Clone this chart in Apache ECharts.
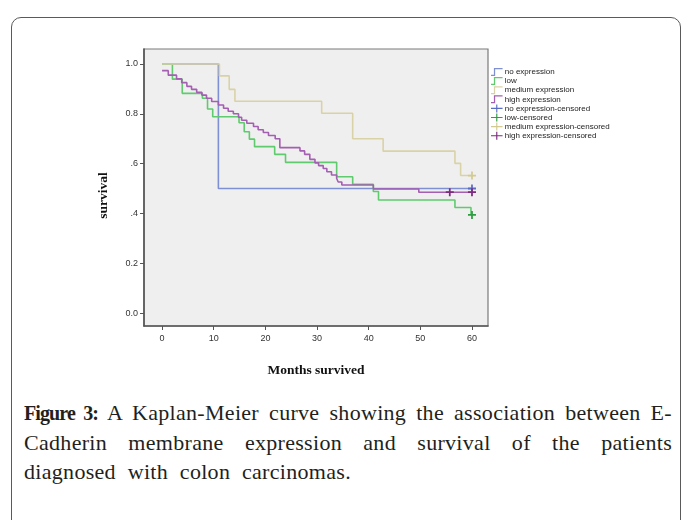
<!DOCTYPE html>
<html>
<head>
<meta charset="utf-8">
<script src="https://cdn.jsdelivr.net/npm/echarts@6/dist/echarts.min.js"></script>
<style>
  html, body { margin: 0; padding: 0; background: #fff; }
  #page { position: relative; width: 683px; height: 520px; overflow: hidden; }
  #card { position: absolute; left: 11px; top: 17px; width: 668px; height: 560px;
          border: 1.5px solid #5a5a5a; border-radius: 10px; }
  #chart { position: absolute; left: 0; top: 0; width: 683px; height: 390px; }
  #caption { position: absolute; left: 24px; top: 398px; width: 648px;
             font-family: "Liberation Serif", serif; font-size: 22px; line-height: 29px;
             letter-spacing: 0.3px; color: #231f20; }
  #caption div { white-space: nowrap; }
  #caption .j { text-align: justify; text-align-last: justify; }
  #caption .last { word-spacing: 6px; }
  #caption b { font-weight: bold; font-size: 20px; letter-spacing: -0.9px; }
</style>
</head>
<body>
<div id="page">
  <div id="card"></div>
  <div id="chart"></div>
  <div id="caption">
    <div class="j"><b>Figure 3:</b> A Kaplan-Meier curve showing the association between E-</div>
    <div class="j">Cadherin membrane expression and survival of the patients</div>
    <div class="last">diagnosed with colon carcinomas.</div>
  </div>
</div>
<script>
    // 生存曲线数据 (months, survival)
    const noExprMonths = [0, 10.9, 60];
    const noExprSurv = [1.0, 0.5, 0.5];

    const lowMonths = [0, 2, 3.9, 7.8, 8.8, 9.8, 14.9, 15.9, 16.9, 17.9, 21.8, 23.9, 33.8, 36.9, 40.9, 41.9, 56.7, 59.8];
    const lowSurv = [1.0, 0.939, 0.882, 0.862, 0.819, 0.788, 0.764, 0.728, 0.698, 0.668, 0.637, 0.605, 0.547, 0.517, 0.488, 0.454, 0.424, 0.394];

    const medMonths = [0, 11.1, 13.0, 14.1, 30.9, 36.9, 42.8, 56.7, 57.8, 60];
    const medSurv = [1.0, 0.952, 0.898, 0.85, 0.802, 0.70, 0.65, 0.601, 0.552, 0.552];

    const highMonths = [0, 1.2, 2.8, 3.8, 4.8, 5.7, 6.7, 7.7, 8.6, 9.6, 10.9, 11.9, 12.8, 13.8, 14.8, 15.4, 16.4, 17.7, 18.6, 19.6, 20.6, 21.9, 22.8, 26.7, 27.6, 28.6, 29.6, 30.3, 31.2, 31.9, 32.8, 33.8, 34.1, 34.8, 40.9, 49.7, 60];
    const highSurv = [0.973, 0.955, 0.94, 0.925, 0.91, 0.898, 0.886, 0.875, 0.862, 0.849, 0.835, 0.822, 0.81, 0.80, 0.786, 0.774, 0.762, 0.749, 0.736, 0.725, 0.713, 0.70, 0.664, 0.651, 0.637, 0.617, 0.603, 0.592, 0.58, 0.567, 0.554, 0.54, 0.526, 0.514, 0.498, 0.485, 0.485];

    // censored marks
    const noExprCensMonths = [60];
    const noExprCensSurv = [0.5];
    const lowCensMonths = [60];
    const lowCensSurv = [0.394];
    const medCensMonths = [60];
    const medCensSurv = [0.552];
    const highCensMonths = [55.7, 60];
    const highCensSurv = [0.485, 0.485];

    const xTicks = [0, 10, 20, 30, 40, 50, 60];
    const yTicks = [0, 0.2, 0.4, 0.6, 0.8, 1.0];
    const yTickLabels = ['0.0', '0.2', '.4', '.6', '0.8', '1.0'];

    const pairs = (xs, ys) => xs.map((x, i) => [x, ys[i]]);

    const stepIcon = 'path://M0,7 L3,7 L3,0 L12,0 L12,1.3 L4.3,1.3 L4.3,8.3 L0,8.3 Z';
    const censIcon = 'path://M0,3.6 L12,3.6 L12,4.7 L0,4.7 Z M5.4,0 L6.6,0 L6.6,8.3 L5.4,8.3 Z';
    const plusSymbol = 'path://M0,3.9 L10,3.9 L10,6.1 L0,6.1 Z M3.9,0 L6.1,0 L6.1,10 L3.9,10 Z';

    const lineColors = ['#7f8fd4', '#5fcb6e', '#d9d2a6', '#a45eb2'];
    const censColors = ['#5a6cc6', '#2f9c42', '#d3ca92', '#7d2a80'];
    const names = ['no expression', 'low', 'medium expression', 'high expression'];

    function lineSeries(i, xs, ys) {
        return {
            name: names[i], type: 'line', step: 'end',
            data: pairs(xs, ys), showSymbol: false, symbol: 'none',
            itemStyle: { color: lineColors[i] },
            lineStyle: { color: lineColors[i], width: 1.6 },
            animation: false, silent: true
        };
    }
    function censSeries(i, xs, ys) {
        return {
            name: names[i] + '-censored', type: 'scatter',
            data: pairs(xs, ys), symbol: plusSymbol, symbolSize: 8,
            itemStyle: { color: censColors[i], opacity: 1 },
            animation: false, silent: true, z: 5
        };
    }

    let chart = echarts.init(document.getElementById('chart'));
    let option = {
        backgroundColor: 'transparent',
        grid: {
            left: 144, top: 49, right: 195, bottom: 64,
            show: true, backgroundColor: '#efefef', borderColor: '#7a7a7a', borderWidth: 1.2
        },
        legend: {
            orient: 'vertical', left: 491, top: 68, padding: 0,
            itemWidth: 12, itemHeight: 8, itemGap: 1.1,
            textStyle: { fontFamily: 'Liberation Sans', fontSize: 8, lineHeight: 8, color: '#222', padding: [0, 0, 0, -3] },
            data: names.map((n, i) => ({ name: n, icon: stepIcon, itemStyle: { color: lineColors[i] } }))
                .concat(names.map((n, i) => ({ name: n + '-censored', icon: censIcon, itemStyle: { color: censColors[i] } })))
        },
        xAxis: {
            type: 'value', min: -3.5, max: 63.1,
            name: 'Months survived', nameLocation: 'middle', nameGap: 38,
            nameTextStyle: { fontFamily: 'Liberation Serif', fontWeight: 'bold', fontSize: 13.5, color: '#111' },
            axisLine: { show: true, onZero: false, lineStyle: { color: '#555', width: 1.6 } },
            axisTick: { show: true, length: 4, customValues: xTicks, lineStyle: { color: '#555' } },
            axisLabel: { customValues: xTicks, fontFamily: 'Liberation Sans', fontSize: 9, color: '#333', margin: 8 },
            splitLine: { show: false }
        },
        yAxis: {
            type: 'value', min: -0.052, max: 1.06,
            name: 'survival', nameLocation: 'middle', nameGap: 33, nameRotate: 90,
            nameTextStyle: { fontFamily: 'Liberation Serif', fontWeight: 'bold', fontSize: 13.5, color: '#111', padding: [0, 16, 0, 0] },
            axisLine: { show: true, onZero: false, lineStyle: { color: '#555', width: 1.6 } },
            axisTick: { show: true, length: 4, customValues: yTicks, lineStyle: { color: '#555' } },
            axisLabel: {
                customValues: yTicks, fontFamily: 'Liberation Sans', fontSize: 9, color: '#333', margin: 6,
                formatter: function (value) {
                    let idx = yTicks.findIndex(t => Math.abs(t - value) < 1e-6);
                    return idx >= 0 ? yTickLabels[idx] : '';
                }
            },
            splitLine: { show: false }
        },
        series: [
            lineSeries(0, noExprMonths, noExprSurv),
            lineSeries(1, lowMonths, lowSurv),
            lineSeries(2, medMonths, medSurv),
            lineSeries(3, highMonths, highSurv),
            censSeries(0, noExprCensMonths, noExprCensSurv),
            censSeries(1, lowCensMonths, lowCensSurv),
            censSeries(2, medCensMonths, medCensSurv),
            censSeries(3, highCensMonths, highCensSurv)
        ]
    };
    chart.setOption(option);
</script>
</body>
</html>
